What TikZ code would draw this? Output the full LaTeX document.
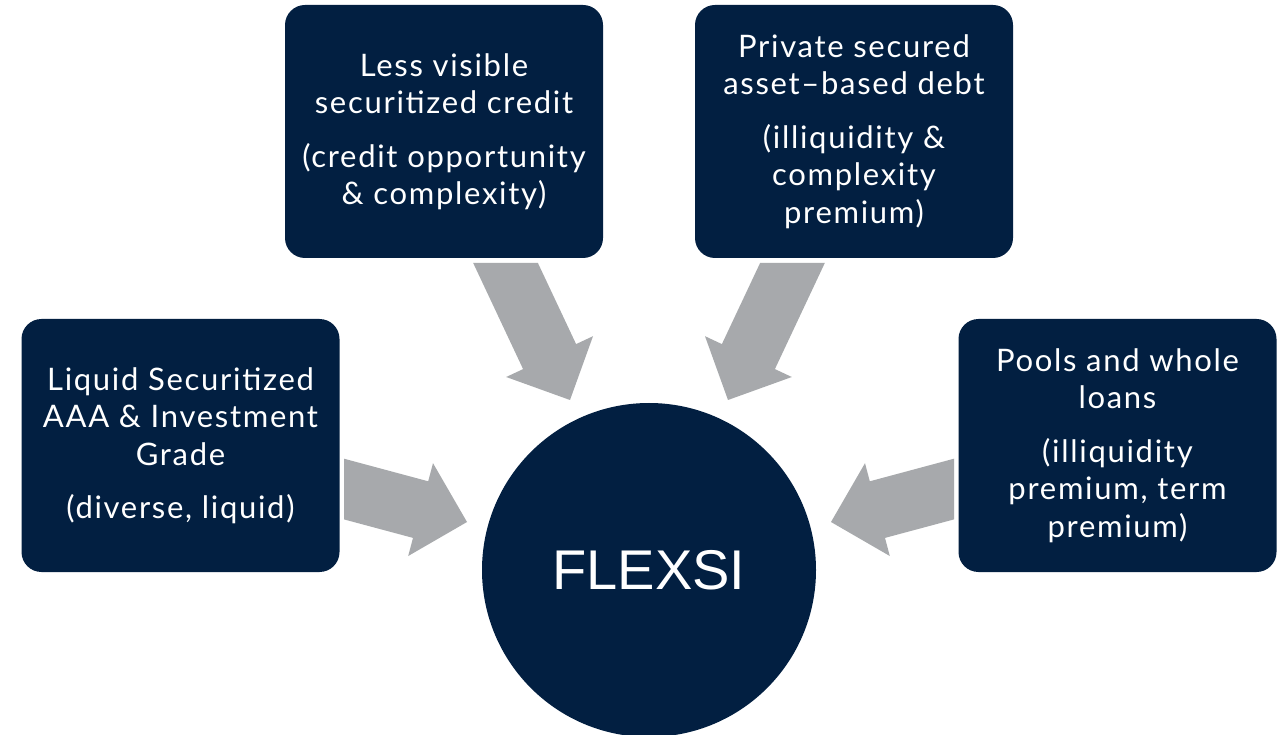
\documentclass[tikz,border=0pt]{standalone}
\usepackage{fontspec}
\setmainfont{Lato}[LetterSpace=5.5]
\newfontfamily\flexfont{Liberation Sans}
\definecolor{navy}{HTML}{021F41}
\definecolor{arrowgray}{HTML}{A7A9AC}
\begin{document}
\begin{tikzpicture}[x=1pt,y=-1pt,
  boxnode/.style={rounded corners=20pt, fill=navy, text=white, inner sep=0pt, outer sep=0pt,
    minimum width=318pt, minimum height=253pt, align=center,
    font=\fontsize{31}{37.5}\selectfont},
  hubnode/.style={circle, fill=navy, text=white, inner sep=0pt, minimum size=334pt,
    font=\flexfont\fontsize{56}{60}\selectfont},
  blockarrow/.style={fill=arrowgray, draw=none}]
\useasboundingbox (0,0) rectangle (1278,735);
\fill[white] (0,0) rectangle (1278,735);

% block arrows
\fill[blockarrow] (473.2,263) -- (537.9,263) -- (576.1,344.1) -- (593,336.2) -- (570,400) -- (506.2,377) -- (523.1,369.1) -- cycle;
\fill[blockarrow] (824.8,263) -- (760.1,263) -- (721.9,344.1) -- (705,336.2) -- (728,400) -- (791.8,377) -- (774.9,369.1) -- cycle;
\fill[blockarrow] (344,458.7) -- (428.2,481.3) -- (433,463.2) -- (467,522) -- (408.2,556) -- (413,537.9) -- (344,519.4) -- cycle;
\fill[blockarrow] (954,458.7) -- (869.8,481.3) -- (865,463.2) -- (831,522) -- (889.8,556) -- (885,537.9) -- (954,519.4) -- cycle;

\node[boxnode] (less) at (444,131.5) {Less visible\\securitized credit\\[16pt](credit opportunity\\\& complexity)};
\node[boxnode] (priv) at (854,131.5) {Private secured\\asset--based debt\\[16pt](illiquidity \&\\complexity\\premium)};
\node[boxnode] (liquid) at (180.5,445.5) {Liquid Securitized\\AAA \& Investment\\Grade\\[16pt](diverse, liquid)};
\node[boxnode] (pools) at (1117.5,445.5) {Pools and whole\\loans\\[16pt](illiquidity\\premium, term\\premium)};
\node[hubnode] (flexsi) at (649,570) {FLEXSI};
\end{tikzpicture}
\end{document}
